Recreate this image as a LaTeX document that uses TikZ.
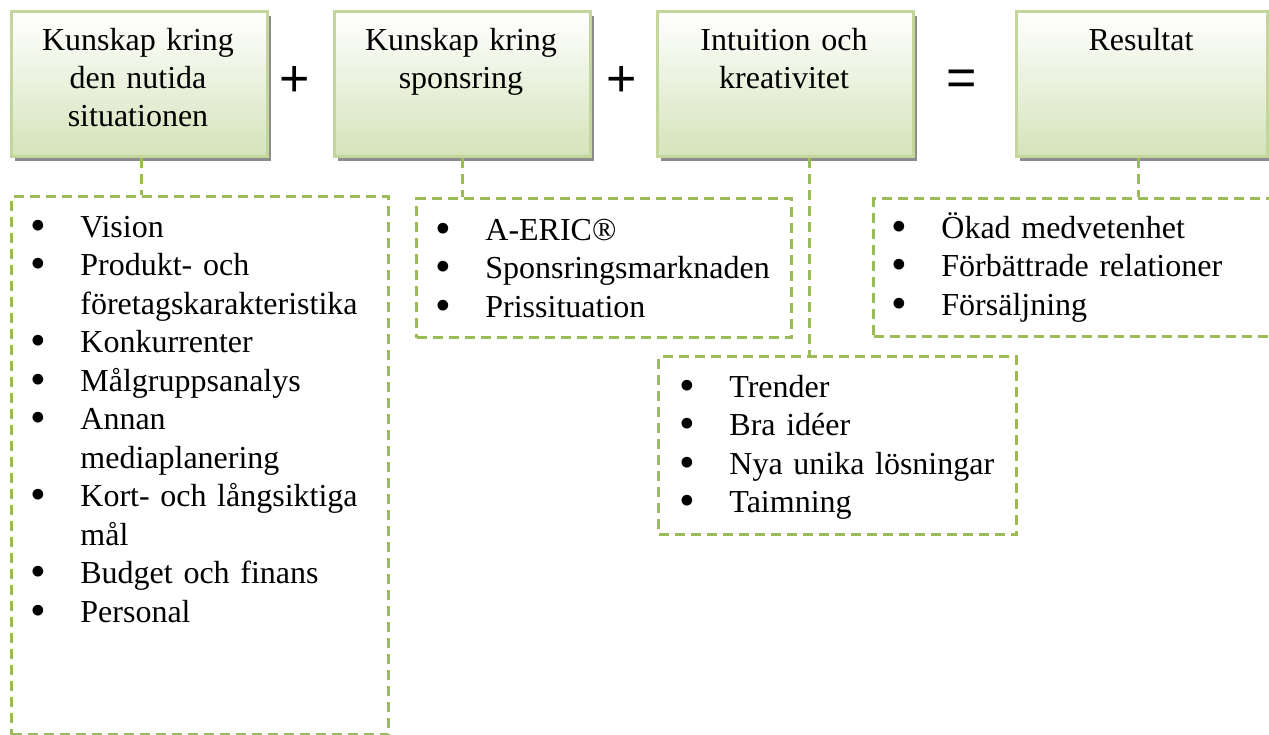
\documentclass[tikz,border=0pt]{standalone}
\usepackage{fontspec}
\setmainfont{Liberation Serif}
\newfontfamily\signfont{Liberation Sans}
\usepackage{tikz}
\usetikzlibrary{arrows,calc,positioning,shadows}
\definecolor{boxborder}{RGB}{195,214,155}
\definecolor{boxfill}{RGB}{213,227,186}
\definecolor{dashgreen}{RGB}{155,187,89}
\tikzstyle{titlebox}=[draw=boxborder,line width=1.5pt,top color=white,bottom color=boxfill,
  minimum width=128pt,minimum height=72.5pt,inner sep=0pt,anchor=north west,
  drop shadow={shadow xshift=1.5pt,shadow yshift=-2pt,fill=black!45,opacity=1}]
\tikzstyle{titletext}=[anchor=base,inner sep=0pt,text width=124pt,align=center,
  font=\fontsize{16}{19}\selectfont]
\tikzstyle{listbox}=[draw=dashgreen,line width=1.5pt,dash pattern=on 5pt off 3pt,
  inner sep=0pt,anchor=north west]
\tikzstyle{listtext}=[anchor=base west,inner sep=0pt,text width=175pt,
  font=\fontsize{16}{19.25}\selectfont]
\tikzstyle{link}=[dashgreen,line width=1.5pt,dash pattern=on 5pt off 3pt]
\tikzstyle{sign}=[anchor=base,inner sep=0pt,font=\signfont\fontsize{26}{26}\selectfont]
\newcommand*{\punkt}[1]{\noindent\hangindent=24pt%
  \makebox[24pt][l]{\hspace{-0.8pt}\smash{\raisebox{-1.6pt}{\scalebox{1.4}{•}}}}#1\par}

\begin{document}
\begin{tikzpicture}[x=0.5pt,y=-0.5pt]
  \useasboundingbox (0,0) rectangle (1269,734);
  % top row
  \node[titlebox] (kunskapbox) at (10,10) {};
  \node[titlebox] (sponsbox) at (333,10) {};
  \node[titlebox] (intubox) at (656,10) {};
  \node[titlebox,minimum width=125.5pt] (resultbox) at (1015,10) {};
  \node[titletext] (kunskaptext) at (138,50) {Kunskap kring\\den nutida\\situationen};
  \node[titletext] (sponstext) at (461,50) {Kunskap kring\\sponsring};
  \node[titletext] (intutext) at (784,50) {Intuition och\\kreativitet};
  \node[titletext] (resulttext) at (1141,50) {Resultat};
  \node[sign] (plusa) at (295,96) {+};
  \node[sign] (plusb) at (622,96) {+};
  \node[sign] (equal) at (962,95) {=};
  % lists
  \node[listbox,minimum width=188.5pt,minimum height=269pt] (nutidlist) at (10,195) {};
  \node[listbox,minimum width=187.5pt,minimum height=69.5pt] (sponslist) at (415,197) {};
  \node[listbox,minimum width=179pt,minimum height=89pt] (trendlist) at (657,355) {};
  \node[listbox,minimum width=202pt,minimum height=69pt] (resultlist) at (872,197) {};
  \node[listtext] (nutidpunkter) at (32,237) {\raggedright
    \punkt{Vision}
    \punkt{Produkt- och\newline företagskarakteristika}
    \punkt{Konkurrenter}
    \punkt{Målgruppsanalys}
    \punkt{Annan\newline mediaplanering}
    \punkt{Kort- och långsiktiga\newline mål}
    \punkt{Budget och finans}
    \punkt{Personal}};
  \node[listtext] (sponspunkter) at (437,240) {\raggedright
    \punkt{A-ERIC®}
    \punkt{Sponsringsmarknaden}
    \punkt{Prissituation}};
  \node[listtext] (trendpunkter) at (681,397) {\raggedright
    \punkt{Trender}
    \punkt{Bra idéer}
    \punkt{Nya unika lösningar}
    \punkt{Taimning}};
  \node[listtext] (resultpunkter) at (893,238) {\raggedright
    \punkt{Ökad medvetenhet}
    \punkt{Förbättrade relationer}
    \punkt{Försäljning}};
  % links
  \draw[link] ([xshift=1pt]kunskapbox.south) -- ([xshift=1pt]kunskapbox.south |- nutidlist.north);
  \draw[link] (sponsbox.south) -- (sponsbox.south |- sponslist.north);
  \draw[link] ([xshift=12pt]intubox.south) -- ([xshift=12pt]intubox.south |- trendlist.north);
  \draw[link] ([xshift=-2pt]resultbox.south) -- ([xshift=-2pt]resultbox.south |- resultlist.north);
\end{tikzpicture}
\end{document}
